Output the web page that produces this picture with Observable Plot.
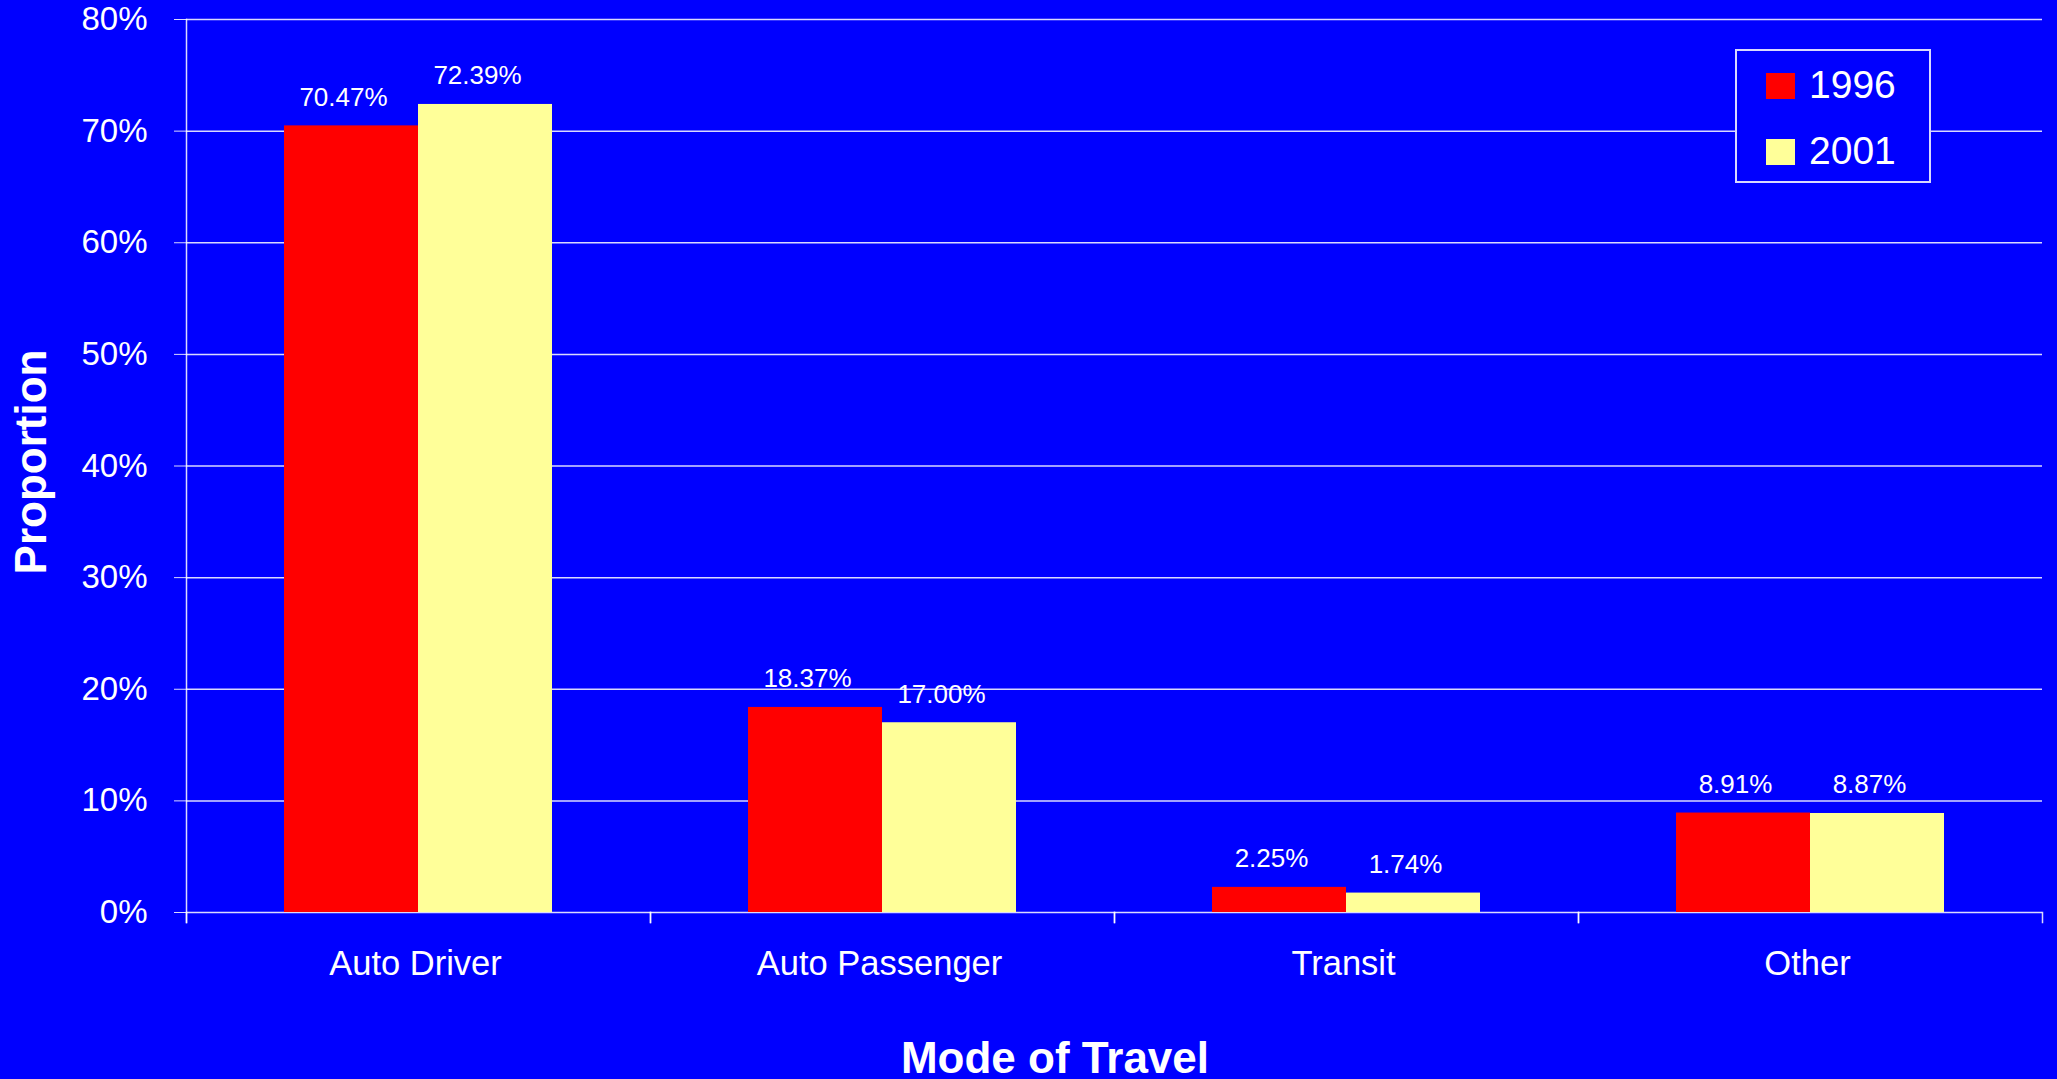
<!DOCTYPE html>
<html>
<head>
<meta charset="utf-8">
<script src="https://cdn.jsdelivr.net/npm/d3@7"></script>
<script src="https://cdn.jsdelivr.net/npm/@observablehq/plot@0.6"></script>
<style>
  html, body { margin: 0; padding: 0; background: #0000FF; overflow: hidden; }
  #wrap { position: relative; width: 2057px; height: 1079px; font-family: "Liberation Sans", Arial, sans-serif; color: white; }
  #wrap svg { display: block; }
  .legend { position: absolute; left: 1735px; top: 49px; width: 192px; height: 130px; border: 2px solid #d8d8ff; background: #0000FF; }
  .sw { position: absolute; left: 29px; width: 29px; height: 26px; }
  .lt { position: absolute; left: 72px; font-size: 39px; line-height: 1; }
  .xtitle { position: absolute; left: 755px; width: 600px; top: 1036px; text-align: center; font-size: 44px; font-weight: bold; line-height: 1; }
  .ytitle { position: absolute; left: 31px; top: 462px; font-size: 44px; font-weight: bold; line-height: 1; white-space: nowrap; transform: translate(-50%, -50%) rotate(-90deg); }
</style>
</head>
<body>
<div id="wrap"></div>
<script>
const modes = ["Auto Driver", "Auto Passenger", "Transit", "Other"];
const years = ["1996", "2001"];
const share1996 = [70.47, 18.37, 2.25, 8.91];
const share2001 = [72.39, 17.00, 1.74, 8.87];
const yTicks = [0, 10, 20, 30, 40, 50, 60, 70, 80];
const yearColors = ["#FF0000", "#FFFF99"];
const xTitle = "Mode of Travel";
const yTitle = "Proportion";

const rows = [];
modes.forEach((m, i) => {
  rows.push({mode: m, year: years[0], value: share1996[i]});
  rows.push({mode: m, year: years[1], value: share2001[i]});
});

const font = "'Liberation Sans', Arial, sans-serif";
const innerH = 1079 - 19 - 167;

const chart = Plot.plot({
  width: 2057,
  height: 1079,
  marginLeft: 186,
  marginRight: 15,
  marginTop: 19,
  marginBottom: 167,
  style: {background: "#0000FF", color: "white", fontFamily: font, overflow: "visible"},
  fx: {domain: modes, padding: 0},
  x: {domain: years, paddingInner: 0, paddingOuter: 0.731, axis: null},
  y: {domain: [0, 80]},
  color: {domain: years, range: yearColors},
  marks: [
    Plot.gridY(yTicks, {stroke: "white", strokeOpacity: 0.85, strokeWidth: 1.5}),
    Plot.barY(rows, {fx: "mode", x: "year", y: "value", fill: "year", insetLeft: 0, insetRight: 0}),
    Plot.frame({anchor: "left", stroke: "white", strokeOpacity: 0.85, strokeWidth: 1.5, insetTop: innerH, insetBottom: -10}),
    Plot.frame({anchor: "right", stroke: "white", strokeOpacity: 0.85, strokeWidth: 1.5, insetTop: innerH, insetBottom: -10}),
    Plot.frame({fx: [modes[0]], anchor: "left", stroke: "white", strokeOpacity: 0.85, strokeWidth: 1.5, insetBottom: -10}),
    Plot.text(rows, {fx: "mode", x: "year", y: "value", text: d => d.value.toFixed(2) + "%", dy: -20, dx: -8, lineAnchor: "bottom", fill: "white", fontSize: 26}),
    Plot.axisY({ticks: yTicks, tickFormat: d => d + "%", tickSize: 12, tickPadding: 27, fontSize: 33, stroke: "white", strokeOpacity: 0.85, label: null}),
    Plot.axisFx({anchor: "bottom", tickSize: 0, tickPadding: 38, fontSize: 34.5, label: null, dx: -3})
  ]
});

const wrap = document.getElementById("wrap");
wrap.appendChild(chart);

const legend = document.createElement("div");
legend.className = "legend";
years.forEach((y, i) => {
  const sw = document.createElement("div");
  sw.className = "sw";
  sw.style.top = (22 + i * 66) + "px";
  sw.style.background = yearColors[i];
  legend.appendChild(sw);
  const t = document.createElement("div");
  t.className = "lt";
  t.style.top = (14 + i * 66) + "px";
  t.textContent = y;
  legend.appendChild(t);
});
wrap.appendChild(legend);

const xt = document.createElement("div");
xt.className = "xtitle";
xt.textContent = xTitle;
wrap.appendChild(xt);

const yt = document.createElement("div");
yt.className = "ytitle";
yt.textContent = yTitle;
wrap.appendChild(yt);
</script>
</body>
</html>
